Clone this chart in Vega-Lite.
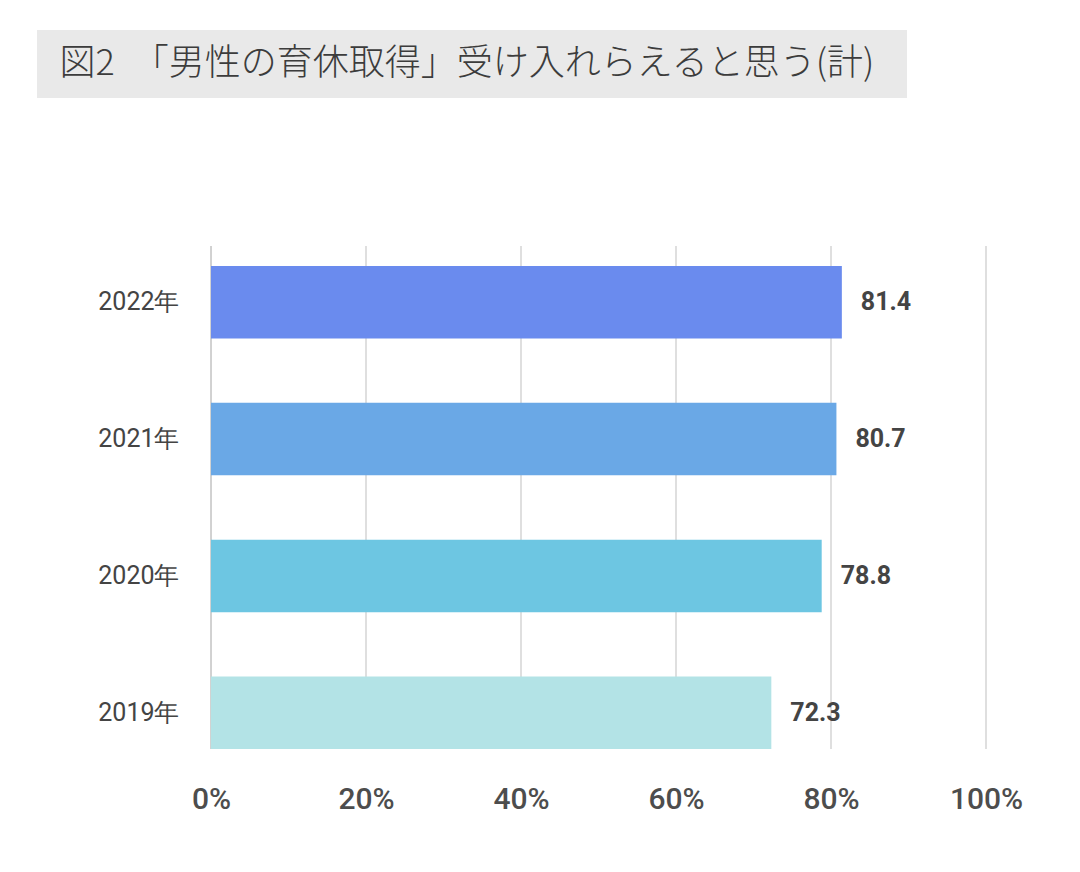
{
  "$schema": "https://vega.github.io/schema/vega-lite/v6.json",
  "background": "white",
  "padding": {"left": 37, "top": 30, "right": 0, "bottom": 0},
  "autosize": {"type": "pad"},
  "config": {"view": {"stroke": null}, "font": "Roboto"},
  "spacing": 147,
  "vconcat": [
    {
      "width": 870,
      "height": 68,
      "view": {"fill": "#e9e9e9", "stroke": null},
      "data": {"values": [{"t": "図2　「男性の育休取得」受け入れらえると思う(計)"}]},
      "mark": {"type": "text", "align": "center", "baseline": "middle", "dx": -5, "font": "Noto Sans CJK JP", "fontSize": 36, "fontWeight": 300, "color": "#3c3c3c"},
      "encoding": {"text": {"field": "t", "type": "nominal"}}
    },
    {
      "spacing": 0,
      "hconcat": [
        {
          "width": 60,
          "height": 10,
          "data": {"values": []},
          "mark": {"type": "point"}
        },
        {
          "width": 775,
          "height": 503,
          "layer": [
            {
              "data": {"values": [{"g": 0}, {"g": 20}, {"g": 40}, {"g": 60}, {"g": 80}, {"g": 100}]},
              "mark": {"type": "rule", "strokeWidth": 1},
              "encoding": {
                "x": {"field": "g", "type": "quantitative", "scale": {"domain": [0, 100], "nice": false},
                  "axis": {"title": null, "values": [0, 20, 40, 60, 80, 100], "labelExpr": "datum.value + '%'",
                    "ticks": false, "domain": false, "grid": false, "labelFlush": false,
                    "labelFont": "Roboto", "labelFontSize": 30, "labelFontWeight": 500, "labelColor": "#4d4d4d", "labelPadding": 35}},
                "color": {"condition": {"test": "datum.g === 0", "value": "#a4a4a4"}, "value": "#bfbfbf"}
              }
            },
            {
              "data": {"values": [
                {"year": "2022年", "value": 81.4},
                {"year": "2021年", "value": 80.7},
                {"year": "2020年", "value": 78.8},
                {"year": "2019年", "value": 72.3}
              ]},
              "encoding": {
                "y": {"field": "year", "type": "nominal", "sort": null,
                  "scale": {"paddingInner": 0.47, "paddingOuter": 0, "range": [20, 503]},
                  "axis": {"title": null, "ticks": false, "domain": false,
                    "labelFont": "Roboto", "labelFontSize": 25, "labelColor": "#444444", "labelPadding": 32}},
                "x": {"field": "value", "type": "quantitative"}
              },
              "layer": [
                {
                  "mark": {"type": "bar"},
                  "encoding": {
                    "color": {"field": "year", "type": "nominal", "legend": null,
                      "scale": {"domain": ["2022年", "2021年", "2020年", "2019年"], "range": ["#6a8bee", "#6aa8e6", "#6dc6e2", "#b3e3e6"]}}
                  }
                },
                {
                  "mark": {"type": "text", "align": "left", "baseline": "middle", "dx": 19, "font": "Roboto", "fontSize": 25, "fontWeight": "bold", "color": "#444444"},
                  "encoding": {"text": {"field": "value", "type": "quantitative", "format": ".1f"}}
                }
              ]
            }
          ]
        }
      ]
    }
  ]
}
